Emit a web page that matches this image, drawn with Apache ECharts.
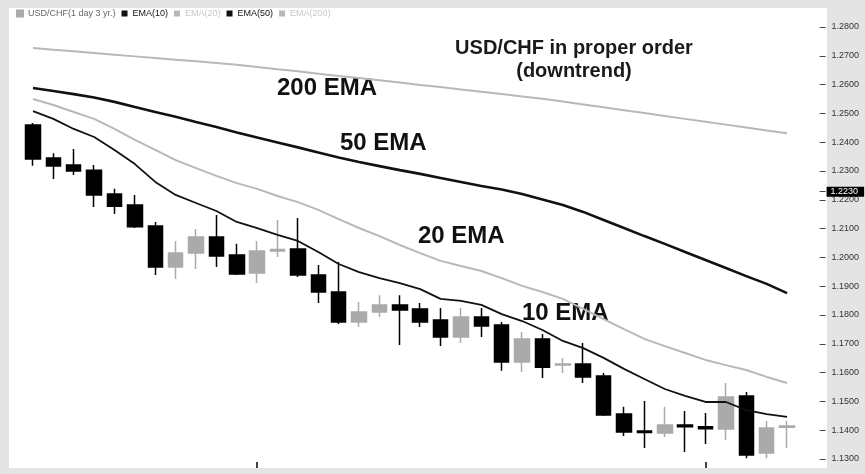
<!DOCTYPE html>
<html lang="en">
<head>
<meta charset="UTF-8">
<title>USD/CHF in proper order (downtrend)</title>
<script src="https://cdn.jsdelivr.net/npm/echarts@6/dist/echarts.min.js"></script>
<style>
  html, body { margin: 0; padding: 0; background: #e4e4e4; }
  #chart { width: 865px; height: 474px; }
</style>
</head>
<body>
<div id="chart"></div>
<script>
  // 39 daily slots, the last one is still empty
  var days = [];
  for (var d = 1; d <= 39; d++) days.push('D' + d);
  var monthTicks = [11, 33];
  var priceTicks = [1.13, 1.14, 1.15, 1.16, 1.17, 1.18, 1.19, 1.20,
                    1.21, 1.22, 1.23, 1.24, 1.25, 1.26, 1.27, 1.28];
  var lastPrice = 1.2230;

  // [open, close, low, high]
  var usdchf = [
    [1.2460, 1.2342, 1.2318, 1.2467],
    [1.2345, 1.2317, 1.2272, 1.2362],
    [1.2321, 1.2300, 1.2286, 1.2376],
    [1.2303, 1.2217, 1.2175, 1.2321],
    [1.2220, 1.2178, 1.2151, 1.2238],
    [1.2182, 1.2106, 1.2102, 1.2217],
    [1.2109, 1.1967, 1.1939, 1.2123],
    [1.1967, 1.2015, 1.1925, 1.2057],
    [1.2015, 1.2071, 1.1960, 1.2099],
    [1.2071, 1.2005, 1.1967, 1.2147],
    [1.2008, 1.1942, 1.1939, 1.2047],
    [1.1946, 1.2022, 1.1911, 1.2057],
    [1.2022, 1.2027, 1.2001, 1.2130],
    [1.2029, 1.1939, 1.1932, 1.2137],
    [1.1939, 1.1880, 1.1842, 1.1974],
    [1.1880, 1.1776, 1.1769, 1.1984],
    [1.1776, 1.1810, 1.1758, 1.1845],
    [1.1810, 1.1835, 1.1793, 1.1869],
    [1.1835, 1.1817, 1.1696, 1.1869],
    [1.1821, 1.1776, 1.1758, 1.1842],
    [1.1783, 1.1724, 1.1692, 1.1824],
    [1.1724, 1.1793, 1.1703, 1.1824],
    [1.1793, 1.1762, 1.1724, 1.1824],
    [1.1765, 1.1637, 1.1606, 1.1776],
    [1.1637, 1.1717, 1.1602, 1.1741],
    [1.1717, 1.1619, 1.1581, 1.1734],
    [1.1626, 1.1630, 1.1599, 1.1651],
    [1.1630, 1.1585, 1.1564, 1.1703],
    [1.1588, 1.1453, 1.1449, 1.1599],
    [1.1456, 1.1394, 1.1380, 1.1481],
    [1.1397, 1.1392, 1.1338, 1.1501],
    [1.1390, 1.1418, 1.1376, 1.1481],
    [1.1418, 1.1412, 1.1324, 1.1467],
    [1.1412, 1.1405, 1.1352, 1.1460],
    [1.1404, 1.1515, 1.1366, 1.1564],
    [1.1519, 1.1314, 1.1303, 1.1533],
    [1.1321, 1.1408, 1.1303, 1.1432],
    [1.1410, 1.1415, 1.1338, 1.1432]
  ];

  var ema10 = [1.2508, 1.2481, 1.2446, 1.2418, 1.2373, 1.2324, 1.2262, 1.2217,
               1.2189, 1.2161, 1.2123, 1.2102, 1.2078, 1.2057, 1.2019, 1.1977,
               1.1949, 1.1928, 1.1911, 1.1890, 1.1856, 1.1849, 1.1835, 1.1803,
               1.1779, 1.1748, 1.1710, 1.1685, 1.1651, 1.1613, 1.1578, 1.1543,
               1.1519, 1.1498, 1.1498, 1.1470, 1.1456, 1.1446];
  var ema20 = [1.2550, 1.2529, 1.2505, 1.2481, 1.2446, 1.2408, 1.2373, 1.2338,
               1.2310, 1.2283, 1.2258, 1.2238, 1.2213, 1.2192, 1.2165, 1.2133,
               1.2102, 1.2074, 1.2043, 1.2015, 1.1988, 1.1970, 1.1953, 1.1928,
               1.1901, 1.1880, 1.1856, 1.1821, 1.1786, 1.1751, 1.1717, 1.1692,
               1.1668, 1.1644, 1.1626, 1.1609, 1.1585, 1.1564];
  var ema50 = [1.2588, 1.2578, 1.2567, 1.2555, 1.2540, 1.2522, 1.2505, 1.2488,
               1.2470, 1.2453, 1.2434, 1.2416, 1.2399, 1.2382, 1.2364, 1.2347,
               1.2331, 1.2317, 1.2303, 1.2290, 1.2276, 1.2262, 1.2248, 1.2236,
               1.2220, 1.2201, 1.2182, 1.2158, 1.2130, 1.2102, 1.2074, 1.2047,
               1.2019, 1.1991, 1.1963, 1.1935, 1.1908, 1.1876];
  var ema200 = [1.2727, 1.2721, 1.2716, 1.2710, 1.2704, 1.2698, 1.2692, 1.2686,
                1.2681, 1.2675, 1.2669, 1.2661, 1.2653, 1.2646, 1.2638, 1.2630,
                1.2623, 1.2615, 1.2607, 1.2599, 1.2592, 1.2583, 1.2575, 1.2567,
                1.2559, 1.2551, 1.2541, 1.2531, 1.2521, 1.2511, 1.2501, 1.2491,
                1.2481, 1.2471, 1.2461, 1.2451, 1.2441, 1.2431];

  var font = 'Liberation Sans, Arial, sans-serif';
  var black = '#111111';
  var grey = '#aaaaaa';
  var light = '#b8b8b8';

  var myChart = echarts.init(document.getElementById('chart'));
  var option = {
    animation: false,
    backgroundColor: '#e4e4e4',
    title: {
      text: 'USD/CHF in proper order\n(downtrend)',
      left: 574,
      top: 37,
      textAlign: 'center',
      padding: 0,
      textStyle: { fontFamily: font, fontWeight: 'bold', fontSize: 20, lineHeight: 23, color: '#1a1a1a' }
    },
    legend: {
      left: 16,
      top: 9,
      padding: 0,
      itemGap: 6,
      itemWidth: 6,
      itemHeight: 6,
      icon: 'rect',
      selectedMode: false,
      textStyle: { fontFamily: font, fontSize: 9 },
      data: [
        { name: 'USD/CHF(1 day 3 yr.)', textStyle: { color: '#666' } },
        { name: 'EMA(10)', textStyle: { color: black } },
        { name: 'EMA(20)', textStyle: { color: '#c8c8c8' } },
        { name: 'EMA(50)', textStyle: { color: black } },
        { name: 'EMA(200)', textStyle: { color: '#c8c8c8' } }
      ]
    },
    graphic: [
      { type: 'rect', z: -1, shape: { x: 9, y: 8, width: 818, height: 460 }, style: { fill: '#ffffff' } },
      { type: 'text', x: 277, y: 76, style: { text: '200 EMA', font: 'bold 24px ' + font, fill: black, textVerticalAlign: 'top' } },
      { type: 'text', x: 340, y: 131, style: { text: '50 EMA', font: 'bold 24px ' + font, fill: black, textVerticalAlign: 'top' } },
      { type: 'text', x: 418, y: 224, style: { text: '20 EMA', font: 'bold 24px ' + font, fill: black, textVerticalAlign: 'top' } },
      { type: 'text', x: 522, y: 301, style: { text: '10 EMA', font: 'bold 24px ' + font, fill: black, textVerticalAlign: 'top' } }
    ],
    grid: { left: 22.8, right: 47.4, top: 8, bottom: 6 },
    xAxis: {
      type: 'category',
      data: days,
      boundaryGap: true,
      axisLine: { show: false },
      axisLabel: { show: false },
      splitLine: { show: false },
      axisTick: {
        show: true,
        inside: true,
        length: 6,
        alignWithLabel: true,
        interval: function (index) { return monthTicks.indexOf(index) !== -1; },
        lineStyle: { color: '#444', width: 2 }
      }
    },
    yAxis: {
      type: 'value',
      position: 'right',
      offset: 2,
      min: 1.126875,
      max: 1.286597,
      splitLine: { show: false },
      axisLine: { show: false },
      axisTick: {
        show: true,
        length: 6,
        customValues: priceTicks.concat([lastPrice]),
        lineStyle: { color: '#444', width: 1 }
      },
      axisLabel: {
        customValues: priceTicks,
        margin: 12,
        fontFamily: font,
        fontSize: 9,
        color: '#333',
        formatter: function (v) { return v.toFixed(4); }
      }
    },
    series: [
      {
        name: 'USD/CHF(1 day 3 yr.)',
        type: 'candlestick',
        data: usdchf,
        barWidth: 15,
        itemStyle: {
          color: grey, color0: '#000000',
          borderColor: grey, borderColor0: '#000000',
          borderWidth: 1.5
        },
        markLine: {
          silent: true,
          symbol: 'none',
          lineStyle: { color: 'transparent', width: 0, opacity: 1 },
          data: [{ yAxis: lastPrice }],
          label: {
            show: true,
            position: 'end',
            distance: [9, 0],
            offset: [0, -8],
            formatter: lastPrice.toFixed(4),
            backgroundColor: '#000',
            color: '#fff',
            fontFamily: font,
            fontSize: 9,
            lineHeight: 10,
            padding: [0, 6, 0, 4]
          }
        }
      },
      { name: 'EMA(200)', type: 'line', data: ema200, symbol: 'none', lineStyle: { color: light, width: 2 }, itemStyle: { color: light } },
      { name: 'EMA(50)', type: 'line', data: ema50, symbol: 'none', lineStyle: { color: black, width: 2.6 }, itemStyle: { color: black } },
      { name: 'EMA(20)', type: 'line', data: ema20, symbol: 'none', lineStyle: { color: light, width: 2 }, itemStyle: { color: light } },
      { name: 'EMA(10)', type: 'line', data: ema10, symbol: 'none', lineStyle: { color: black, width: 1.8 }, itemStyle: { color: black } }
    ]
  };

  myChart.setOption(option);
  window.addEventListener('resize', function () {
    myChart.resize();
  });
</script>
</body>
</html>
